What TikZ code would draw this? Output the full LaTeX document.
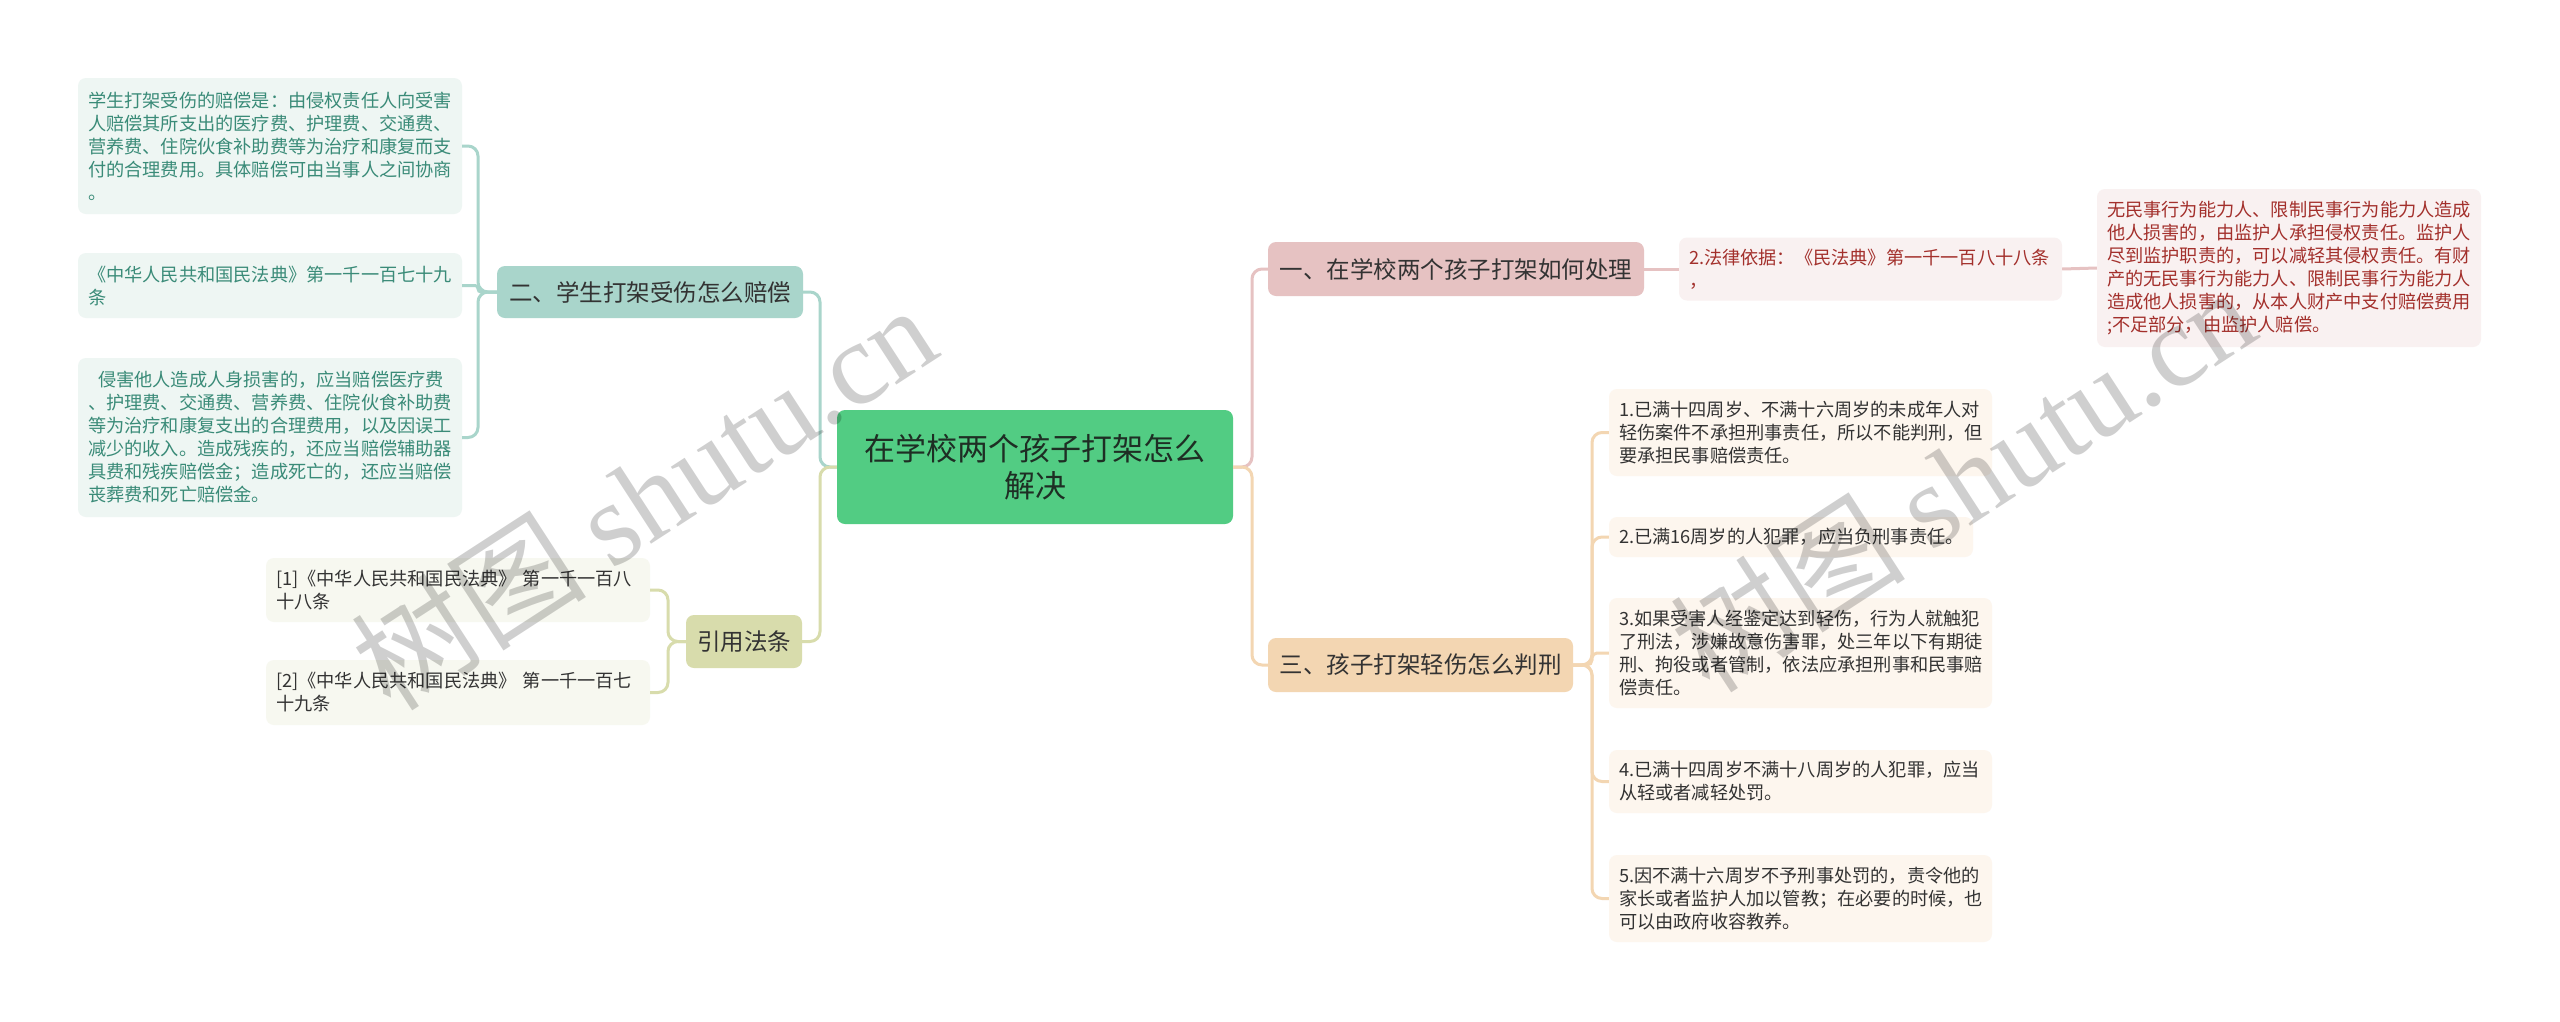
\documentclass[tikz,border=0pt]{standalone}
\usepackage{fontspec}
\setmainfont{Noto Sans CJK SC}
\newfontfamily\wmlatin{Liberation Serif}
\definecolor{cgreen}{HTML}{52CC83}
\definecolor{ctext}{HTML}{1E2E24}
\definecolor{tealbox}{HTML}{A9D5CB}
\definecolor{tealleaf}{HTML}{EEF6F3}
\definecolor{tealtext}{HTML}{3A8B78}
\definecolor{olivebox}{HTML}{D8DCAC}
\definecolor{oliveleaf}{HTML}{F7F8F0}
\definecolor{pinkbox}{HTML}{E6C2C2}
\definecolor{pinkleaf}{HTML}{F9F1F1}
\definecolor{redtext}{HTML}{A3302C}
\definecolor{peachbox}{HTML}{F3D6B2}
\definecolor{peachleaf}{HTML}{FDF6EE}
\definecolor{darktext}{HTML}{333333}
\newcommand\leaffnt{\fontsize{18.2}{23}\selectfont}
\newcommand\mainfnt{\fontsize{23.5}{28}\selectfont}
\newcommand\centerfnt{\fontsize{31}{37}\selectfont}
\newcommand\wmfnt{\fontsize{118}{118}\selectfont}
\tikzset{
  mainbox/.style={rounded corners=8pt, inner sep=0pt, align=center, font=\mainfnt, text=darktext},
  leafbox/.style={rounded corners=8pt, inner xsep=10pt, inner ysep=0pt, align=left, font=\leaffnt, text=darktext},
  conn/.style={line width=3pt, rounded corners=10pt},
  wm/.style={text=black, text opacity=0.19, font=\wmfnt, inner sep=0pt}
}
\begin{document}
\begin{tikzpicture}[x=1pt,y=-1pt]
\useasboundingbox[fill=white] (0,0) rectangle (2560,1021);

% central
\node[mainbox, fill=cgreen, minimum width=396pt, minimum height=114pt, font=\centerfnt, text=ctext] (c) at (1035,467) {在学校两个孩子打架怎么\\解决};

% left branch: 二
\node[mainbox, fill=tealbox, minimum width=306pt, minimum height=52pt] (n2) at (650,292) {二、学生打架受伤怎么赔偿};
\node[leafbox, fill=tealleaf, text=tealtext, text width=364pt, minimum height=136pt] (L1) at (270,146) {学生打架受伤的赔偿是：由侵权责任人向受害\\人赔偿其所支出的医疗费、护理费、交通费、\\营养费、住院伙食补助费等为治疗和康复而支\\付的合理费用。具体赔偿可由当事人之间协商\\。};
\node[leafbox, fill=tealleaf, text=tealtext, text width=364pt, minimum height=65pt] (L2) at (270,285.5) {《中华人民共和国民法典》第一千一百七十九\\条};
\node[leafbox, fill=tealleaf, text=tealtext, text width=364pt, minimum height=159pt] (L3) at (270,437.5) {\hspace*{10pt}侵害他人造成人身损害的，应当赔偿医疗费\\、护理费、交通费、营养费、住院伙食补助费\\等为治疗和康复支出的合理费用，以及因误工\\减少的收入。造成残疾的，还应当赔偿辅助器\\具费和残疾赔偿金；造成死亡的，还应当赔偿\\丧葬费和死亡赔偿金。};

% left branch: 引用法条
\node[mainbox, fill=olivebox, minimum width=116pt, minimum height=53pt] (cite) at (744,641.5) {引用法条};
\node[leafbox, fill=oliveleaf, text width=364pt, minimum height=64pt] (C1) at (458,590) {[1]《中华人民共和国民法典》 第一千一百八\\十八条};
\node[leafbox, fill=oliveleaf, text width=364pt, minimum height=65pt] (C2) at (458,692.5) {[2]《中华人民共和国民法典》 第一千一百七\\十九条};

% right branch: 一
\node[mainbox, fill=pinkbox, minimum width=376pt, minimum height=54pt] (n1) at (1456,269) {一、在学校两个孩子打架如何处理};
\node[leafbox, fill=pinkleaf, text=redtext, text width=363pt, minimum height=63pt] (law) at (1870.5,269) {2.法律依据：《民法典》第一千一百八十八条\\，};
\node[leafbox, fill=pinkleaf, text=redtext, text width=364pt, minimum height=158pt] (far) at (2289,268) {无民事行为能力人、限制民事行为能力人造成\\他人损害的，由监护人承担侵权责任。监护人\\尽到监护职责的，可以减轻其侵权责任。有财\\产的无民事行为能力人、限制民事行为能力人\\造成他人损害的，从本人财产中支付赔偿费用\\;不足部分，由监护人赔偿。};

% right branch: 三
\node[mainbox, fill=peachbox, minimum width=305pt, minimum height=54pt] (n3) at (1420.5,665) {三、孩子打架轻伤怎么判刑};
\node[leafbox, fill=peachleaf, text width=363pt, minimum height=87pt] (R1) at (1800.5,432.5) {1.已满十四周岁、不满十六周岁的未成年人对\\轻伤案件不承担刑事责任，所以不能判刑，但\\要承担民事赔偿责任。};
\node[leafbox, fill=peachleaf, text width=344pt, minimum height=40pt] (R2) at (1791,537) {2.已满16周岁的人犯罪，应当负刑事责任。};
\node[leafbox, fill=peachleaf, text width=363pt, minimum height=110pt] (R3) at (1800.5,653) {3.如果受害人经鉴定达到轻伤，行为人就触犯\\了刑法，涉嫌故意伤害罪，处三年以下有期徒\\刑、拘役或者管制，依法应承担刑事和民事赔\\偿责任。};
\node[leafbox, fill=peachleaf, text width=363pt, minimum height=63pt] (R4) at (1800.5,781.5) {4.已满十四周岁不满十八周岁的人犯罪，应当\\从轻或者减轻处罚。};
\node[leafbox, fill=peachleaf, text width=363pt, minimum height=87pt] (R5) at (1800.5,898.5) {5.因不满十六周岁不予刑事处罚的，责令他的\\家长或者监护人加以管教；在必要的时候，也\\可以由政府收容教养。};

% junctions
\coordinate (jl) at (820,467);
\coordinate (jr) at (1252,467);
\coordinate (j2) at (478,292);
\coordinate (jc) at (668,641.5);
\coordinate (j3) at (1592,665);

% connectors
\draw[conn, tealbox] (c.west) -- (jl) |- (n2.east);
\draw[conn, olivebox] (c.west) -- (jl) |- (cite.east);
\draw[conn, tealbox] (n2.west) -- (j2) |- (L1.east);
\draw[conn, tealbox, rounded corners=3pt] (n2.west) -- (j2) |- (L2.east);
\draw[conn, tealbox] (n2.west) -- (j2) |- (L3.east);
\draw[conn, olivebox] (cite.west) -- (jc) |- (C1.east);
\draw[conn, olivebox] (cite.west) -- (jc) |- (C2.east);
\draw[conn, pinkbox] (c.east) -- (jr) |- (n1.west);
\draw[conn, peachbox] (c.east) -- (jr) |- (n3.west);
\draw[conn, pinkbox] (n1.east) -- (law.west);
\draw[conn, pinkbox] (law.east) -- (far.west);
\draw[conn, peachbox] (n3.east) -- (j3) |- (R1.west);
\draw[conn, peachbox] (n3.east) -- (j3) |- (R2.west);
\draw[conn, peachbox, rounded corners=5pt] (n3.east) -- (j3) |- (R3.west);
\draw[conn, peachbox] (n3.east) -- (j3) |- (R4.west);
\draw[conn, peachbox] (n3.east) -- (j3) |- (R5.west);

% watermarks
\node[wm, rotate=33] (wm1) at (643,496) {树图 {\wmlatin shutu.cn}};
\node[wm, rotate=33] (wm2) at (1962,478) {树图 {\wmlatin shutu.cn}};
\end{tikzpicture}
\end{document}
